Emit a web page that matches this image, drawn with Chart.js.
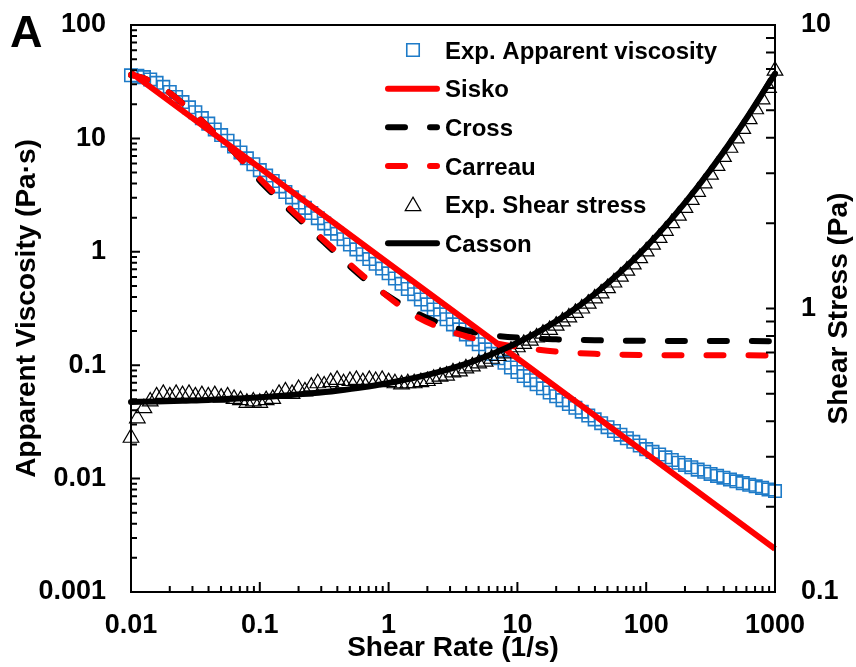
<!DOCTYPE html>
<html>
<head>
<meta charset="utf-8">
<script src="https://cdn.jsdelivr.net/npm/chart.js@4.4.1/dist/chart.umd.min.js"></script>
<style>
  html, body { margin: 0; padding: 0; background: #fff; }
  #wrap { width: 856px; height: 667px; }
</style>
</head>
<body>
<div id="wrap"><canvas id="rheoChart" width="856" height="667"></canvas></div>
<script>
// shear rate of the measured points (1/s), 20 per decade
const shearRate = [
  0.01, 0.0112, 0.0126, 0.0141, 0.0158, 0.0178, 0.02, 0.0224, 0.0251, 0.0282, 0.0316, 0.0355, 0.0398, 0.0447, 0.0501, 0.0562, 0.0631, 0.0708, 0.0794, 0.0891,
  0.1, 0.112, 0.126, 0.141, 0.158, 0.178, 0.2, 0.224, 0.251, 0.282, 0.316, 0.355, 0.398, 0.447, 0.501, 0.562, 0.631, 0.708, 0.794, 0.891,
  1, 1.12, 1.26, 1.41, 1.58, 1.78, 2, 2.24, 2.51, 2.82, 3.16, 3.55, 3.98, 4.47, 5.01, 5.62, 6.31, 7.08, 7.94, 8.91,
  10, 11.2, 12.6, 14.1, 15.8, 17.8, 20, 22.4, 25.1, 28.2, 31.6, 35.5, 39.8, 44.7, 50.1, 56.2, 63.1, 70.8, 79.4, 89.1,
  100, 112, 126, 141, 158, 178, 200, 224, 251, 282, 316, 355, 398, 447, 501, 562, 631, 708, 794, 891,
  1000
];

// Exp. apparent viscosity (Pa·s)
const viscosityExp = [
  36.0, 35.7, 34.7, 33.1, 30.9, 28.5, 25.7, 23.2, 20.9, 18.8,
  17.0, 15.1, 13.5, 12.0, 10.7, 9.55, 8.47, 7.52, 6.67, 5.92,
  5.25, 4.70, 4.21, 3.77, 3.37, 3.02, 2.72, 2.44, 2.20, 1.98,
  1.78, 1.60, 1.44, 1.29, 1.16, 1.05, 0.951, 0.863, 0.783, 0.711,
  0.646, 0.581, 0.522, 0.470, 0.423, 0.380, 0.344, 0.310, 0.281, 0.254,
  0.229, 0.207, 0.187, 0.169, 0.153, 0.138, 0.126, 0.115, 0.105, 0.0955,
  0.0871, 0.0802, 0.0738, 0.0679, 0.0625, 0.0575, 0.0532, 0.0492, 0.0455, 0.0421,
  0.0389, 0.0360, 0.0333, 0.0308, 0.0284, 0.0263, 0.0244, 0.0227, 0.0211, 0.0196,
  0.0182, 0.0172, 0.0163, 0.0154, 0.0146, 0.0138, 0.0132, 0.0126, 0.0120, 0.0115,
  0.0110, 0.01057, 0.01019, 0.00982, 0.00946, 0.00912, 0.00883, 0.00855, 0.00828, 0.00802,
  0.00776
];

// Exp. shear stress (Pa)
const stressExp = [
  0.35, 0.41, 0.445, 0.47, 0.49, 0.50, 0.49, 0.50, 0.495, 0.50,
  0.49, 0.495, 0.49, 0.495, 0.485, 0.49, 0.48, 0.475, 0.465, 0.47,
  0.465, 0.475, 0.48, 0.50, 0.51, 0.50, 0.52, 0.51, 0.53, 0.545,
  0.535, 0.55, 0.56, 0.545, 0.555, 0.56, 0.55, 0.56, 0.555, 0.56,
  0.55, 0.545, 0.54, 0.545, 0.545, 0.55, 0.555, 0.565, 0.575, 0.58,
  0.595, 0.60, 0.615, 0.625, 0.64, 0.65, 0.665, 0.68, 0.695, 0.71,
  0.73, 0.75, 0.77, 0.79, 0.815, 0.84, 0.87, 0.90, 0.93, 0.965,
  1.00, 1.04, 1.085, 1.13, 1.18, 1.235, 1.295, 1.36, 1.43, 1.505,
  1.59, 1.68, 1.775, 1.88, 2.0, 2.125, 2.265, 2.415, 2.58, 2.765,
  2.965, 3.185, 3.425, 3.69, 3.98, 4.30, 4.655, 5.045, 5.47, 6.0,
  6.9
];

// model fits
const siskoRate = [0.01, 0.1, 1, 10, 100, 1000];
const siskoVisc = [38, 5.5, 0.79, 0.115, 0.0166, 0.0024];

const fitRate = [0.01, 0.0126, 0.0158, 0.02, 0.0251, 0.0316, 0.0398, 0.0501, 0.0631, 0.0794,
  0.1, 0.126, 0.158, 0.2, 0.251, 0.316, 0.398, 0.501, 0.631, 0.794,
  1, 1.585, 2.512, 3.981, 6.31, 10, 19.95, 39.81, 100, 1000];
const crossVisc = [36.3, 33.9, 29.5, 25.1, 20.4, 16.2, 12.6, 9.77, 7.59, 5.75,
  4.24, 3.25, 2.52, 1.96, 1.54, 1.21, 0.95, 0.745, 0.592, 0.481,
  0.405, 0.295, 0.234, 0.202, 0.184, 0.175, 0.169, 0.166, 0.164, 0.163];
const carreauVisc = [36.3, 33.9, 29.5, 25.1, 20.4, 16.2, 12.6, 9.77, 7.59, 5.75,
  4.42, 3.39, 2.63, 2.04, 1.60, 1.26, 0.989, 0.776, 0.617, 0.501,
  0.398, 0.275, 0.214, 0.180, 0.158, 0.145, 0.132, 0.126, 0.123, 0.122];

const cassonRate = [0.01, 0.0158, 0.0251, 0.0398, 0.0631, 0.1, 0.158, 0.251, 0.398, 0.631,
  1, 1.585, 2.512, 3.981, 6.31, 10, 15.85, 25.12, 39.81, 63.1,
  100, 158.5, 251.2, 398.1, 631, 1000];
const cassonStress = [0.468, 0.470, 0.473, 0.476, 0.481, 0.486, 0.493, 0.502, 0.513, 0.527,
  0.546, 0.569, 0.599, 0.638, 0.690, 0.757, 0.846, 0.964, 1.125, 1.345,
  1.650, 2.079, 2.688, 3.565, 4.848, 6.740];

// axes
const xTickValues = [0.01, 0.1, 1, 10, 100, 1000];
const xTickLabels = ['0.01', '0.1', '1', '10', '100', '1000'];
const yTickValues = [0.001, 0.01, 0.1, 1, 10, 100];
const yTickLabels = ['0.001', '0.01', '0.1', '1', '10', '100'];
const y2TickValues = [0.1, 1, 10];
const y2TickLabels = ['0.1', '1', '10'];

const FONT = "'Liberation Sans', Arial, sans-serif";
const BLUE = '#1e7bc8';
const RED = '#ff0000';
const tickFont = { family: FONT, size: 27, weight: 'bold' };
const titleFont = { family: FONT, size: 28, weight: 'bold' };

function pts(xs, ys) { return xs.map((x, i) => ({ x, y: ys[i] })); }

// 1..9 x 10^n marks between min and max
function logMarks(min, max) {
  const out = [];
  for (let e = Math.floor(Math.log10(min)); e <= Math.ceil(Math.log10(max)); e++) {
    for (let m = 1; m < 10; m++) {
      const v = m * Math.pow(10, e);
      if (v >= min * 0.999 && v <= max * 1.001) out.push({ v, major: m === 1 });
    }
  }
  return out;
}

function drawMarker(ctx, style, r, x, y) {
  ctx.beginPath();
  if (style === 'rect') {
    const s = r * Math.SQRT1_2;
    ctx.rect(x - s, y - s, 2 * s, 2 * s);
  } else {
    for (let k = 0; k < 3; k++) {
      const ang = k * 2 * Math.PI / 3;
      const px = x + Math.sin(ang) * r, py = y - Math.cos(ang) * r;
      if (k) ctx.lineTo(px, py); else ctx.moveTo(px, py);
    }
    ctx.closePath();
  }
  ctx.stroke();
}

// fixed axis sizes, no extra label padding, so the plot box lands where the original has it
function fixSize(w, h) {
  return s => {
    if (w) s.width = w;
    if (h) s.height = h;
    s.paddingTop = 0; s.paddingBottom = 0; s.paddingLeft = 0; s.paddingRight = 0;
  };
}

const framePlugin = {
  id: 'frame',
  afterDatasetsDraw(chart) {
    const { ctx, chartArea: a, scales: { x, y, y2 } } = chart;
    ctx.save();
    ctx.strokeStyle = '#000';
    ctx.lineWidth = 2;
    ctx.setLineDash([]);
    ctx.beginPath();
    logMarks(x.min, x.max).forEach(m => {
      const p = x.getPixelForValue(m.v);
      ctx.moveTo(p, a.bottom); ctx.lineTo(p, a.bottom - (m.major ? 10 : 6));
    });
    logMarks(y.min, y.max).forEach(m => {
      const p = y.getPixelForValue(m.v);
      ctx.moveTo(a.left, p); ctx.lineTo(a.left + (m.major ? 9 : 6), p);
    });
    logMarks(y2.min, y2.max).forEach(m => {
      const p = y2.getPixelForValue(m.v);
      ctx.moveTo(a.right, p); ctx.lineTo(a.right - 9, p);
    });
    ctx.stroke();
    ctx.strokeRect(a.left, a.top, a.right - a.left, a.bottom - a.top);
    ctx.restore();
  },
  afterDraw(chart) {
    const { ctx, chartArea: a } = chart;
    ctx.save();
    ctx.fillStyle = '#000';

    // panel letter
    ctx.font = `bold 45px ${FONT}`;
    ctx.textBaseline = 'alphabetic';
    ctx.fillText('A', 10, 47);

    // right axis title, reads bottom to top
    ctx.save();
    ctx.translate(839, (a.top + a.bottom) / 2);
    ctx.rotate(-Math.PI / 2);
    ctx.font = `bold 28px ${FONT}`;
    ctx.textAlign = 'center';
    ctx.textBaseline = 'middle';
    ctx.fillText('Shear Stress (Pa)', 0, 0);
    ctx.restore();

    // legend inside the plot
    ctx.font = `bold 24px ${FONT}`;
    chart.data.datasets.forEach((ds, i) => {
      const ry = 50 + i * 38.65;
      if (ds.showLine) {
        ctx.save();
        ctx.strokeStyle = ds.borderColor;
        ctx.lineWidth = ds.borderWidth;
        ctx.lineCap = 'round';
        ctx.setLineDash(ds.borderDash || []);
        ctx.beginPath();
        ctx.moveTo(388, ry); ctx.lineTo(437, ry);
        ctx.stroke();
        ctx.restore();
      } else {
        ctx.save();
        ctx.strokeStyle = ds.pointBorderColor;
        ctx.lineWidth = ds.pointBorderWidth;
        drawMarker(ctx, ds.pointStyle, ds.pointRadius, 413, ry + (ds.pointStyle === 'triangle' ? 1.5 : 0));
        ctx.restore();
      }
      ctx.fillText(ds.label, 445, ry + 8.6);
    });
    ctx.restore();
  }
};

new Chart(document.getElementById('rheoChart'), {
  type: 'scatter',
  data: {
    datasets: [
      {
        label: 'Exp. Apparent viscosity', data: pts(shearRate, viscosityExp), yAxisID: 'y',
        showLine: false, pointStyle: 'rect', pointRadius: 8.8, pointBorderWidth: 1.6,
        pointBorderColor: BLUE, pointBackgroundColor: 'rgba(0,0,0,0)', order: 6, clip: false
      },
      {
        label: 'Sisko', data: pts(siskoRate, siskoVisc), yAxisID: 'y',
        showLine: true, borderColor: RED, borderWidth: 6, pointRadius: 0, order: 2, clip: false
      },
      {
        label: 'Cross', data: pts(fitRate, crossVisc), yAxisID: 'y',
        showLine: true, borderColor: '#000', borderWidth: 6, borderDash: [17, 25], borderCapStyle: 'round',
        cubicInterpolationMode: 'monotone', pointRadius: 0, order: 4, clip: false
      },
      {
        label: 'Carreau', data: pts(fitRate, carreauVisc), yAxisID: 'y',
        showLine: true, borderColor: RED, borderWidth: 6, borderDash: [17, 25], borderCapStyle: 'round',
        cubicInterpolationMode: 'monotone', pointRadius: 0, order: 3, clip: false
      },
      {
        label: 'Exp. Shear stress', data: pts(shearRate, stressExp), yAxisID: 'y2',
        showLine: false, pointStyle: 'triangle', pointRadius: 9, pointBorderWidth: 1.2,
        pointBorderColor: '#000', pointBackgroundColor: 'rgba(0,0,0,0)', order: 5, clip: false
      },
      {
        label: 'Casson', data: pts(cassonRate, cassonStress), yAxisID: 'y2',
        showLine: true, borderColor: '#000', borderWidth: 6, borderCapStyle: 'round',
        cubicInterpolationMode: 'monotone', pointRadius: 0, order: 1, clip: false
      }
    ]
  },
  options: {
    responsive: false,
    animation: false,
    devicePixelRatio: 1,
    layout: { padding: { top: 25, left: 0, right: 0, bottom: 0 } },
    plugins: { legend: { display: false }, tooltip: { enabled: false } },
    scales: {
      x: {
        type: 'logarithmic', position: 'bottom', min: 0.01, max: 1000,
        afterBuildTicks: s => { s.ticks = xTickValues.map(v => ({ value: v })); },
        afterFit: fixSize(0, 75),
        grid: { display: false, drawTicks: false },
        border: { display: false },
        ticks: { autoSkip: false, maxRotation: 0, padding: 17, color: '#000', font: tickFont,
          callback: (v, i) => xTickLabels[i] },
        title: { display: true, text: 'Shear Rate (1/s)', color: '#000', font: titleFont,
          padding: { top: 0, bottom: 2 } }
      },
      y: {
        type: 'logarithmic', position: 'left', min: 0.001, max: 100,
        afterBuildTicks: s => { s.ticks = yTickValues.map(v => ({ value: v })); },
        afterFit: fixSize(131, 0),
        grid: { display: false, drawTicks: false },
        border: { display: false },
        ticks: { autoSkip: false, padding: 25, color: '#000', font: tickFont,
          callback: (v, i) => yTickLabels[i] },
        title: { display: true, text: 'Apparent Viscosity (Pa·s)', color: '#000', font: titleFont,
          padding: { top: 10, bottom: 0 } }
      },
      y2: {
        type: 'logarithmic', position: 'right', min: 0.1, max: 10,
        afterBuildTicks: s => { s.ticks = y2TickValues.map(v => ({ value: v })); },
        afterFit: fixSize(81, 0),
        grid: { display: false, drawTicks: false },
        border: { display: false },
        ticks: { autoSkip: false, padding: 26, color: '#000', font: tickFont,
          callback: (v, i) => y2TickLabels[i] }
      }
    }
  },
  plugins: [framePlugin]
});
</script>
</body>
</html>
